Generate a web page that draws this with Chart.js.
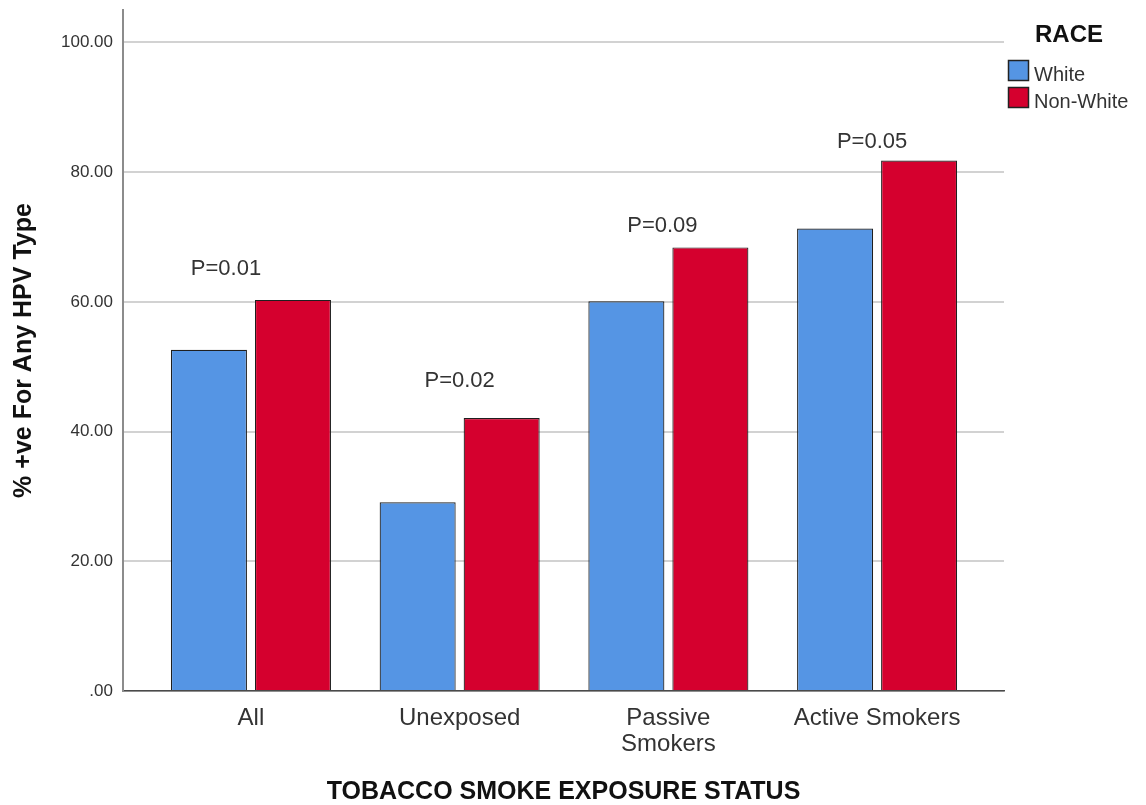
<!DOCTYPE html>
<html>
<head>
<meta charset="utf-8">
<script src="https://cdn.jsdelivr.net/npm/chart.js@4.4.1/dist/chart.umd.min.js"></script>
<style>
  body { margin: 0; background: #fff; }
  #wrap { width: 1146px; height: 805px; position: relative; }
</style>
</head>
<body>
<div id="wrap"><canvas id="myChart"></canvas></div>
<script>
// categories (tick labels) and series values
const categories = ['All', 'Unexposed', ['Passive', 'Smokers'], 'Active Smokers'];
const whiteValues = [52.6, 29.1, 60.1, 71.3];
const nonWhiteValues = [60.3, 42.1, 68.4, 81.8];
const pValues = ['P=0.01', 'P=0.02', 'P=0.09', 'P=0.05'];
const yTicks = [0, 20, 40, 60, 80, 100];

const ctx = document.getElementById('myChart');

Chart.defaults.font.family = '"Liberation Sans", Arial, sans-serif';
Chart.defaults.color = '#333';

// P value labels above each group
const pLabels = {
    id: 'pLabels',
    afterDatasetsDraw(chart, args, opts) {
        const c = chart.ctx;
        const x = chart.scales.x, y = chart.scales.y;
        c.save();
        c.font = '22px "Liberation Sans", Arial, sans-serif';
        c.fillStyle = '#333';
        c.textAlign = 'center';
        c.textBaseline = 'alphabetic';
        pValues.forEach((t, i) => {
            c.fillText(t, x.getPixelForValue(i) + opts.dx[i], y.getPixelForValue(opts.at[i]));
        });
        c.restore();
    }
};

// legend drawn by hand on the right, SPSS style
const raceLegend = {
    id: 'raceLegend',
    afterDraw(chart) {
        const c = chart.ctx;
        const left = chart.chartArea.right + 4;
        c.save();
        c.font = 'bold 24px "Liberation Sans", Arial, sans-serif';
        c.fillStyle = '#111';
        c.textBaseline = 'alphabetic';
        c.fillText('RACE', left + 27, 42);
        c.font = '20px "Liberation Sans", Arial, sans-serif';
        chart.data.datasets.forEach((ds, i) => {
            const top = 60 + i * 27;
            c.fillStyle = ds.backgroundColor;
            c.fillRect(left, top, 21, 21);
            c.strokeStyle = '#222';
            c.lineWidth = 1.5;
            c.strokeRect(left + 0.5, top + 0.5, 20, 20);
            c.fillStyle = '#333';
            c.fillText(ds.label, left + 26, top + 21);
        });
        c.restore();
    }
};

new Chart(ctx, {
    type: 'bar',
    data: {
        datasets: [{
            label: 'White',
            data: whiteValues.map((v, i) => ({ x: i, y: v })),
            backgroundColor: '#5595E4',
            borderColor: '#1f1f1f',
            borderWidth: 1.2
        }, {
            label: 'Non-White',
            data: nonWhiteValues.map((v, i) => ({ x: i, y: v })),
            backgroundColor: '#D5002E',
            borderColor: '#1f1f1f',
            borderWidth: 1.2
        }]
    },
    options: {
        responsive: true,
        maintainAspectRatio: false,
        animation: false,
        categoryPercentage: 0.805,
        barPercentage: 0.905,
        layout: { padding: { left: 0, right: 142, top: 10, bottom: 0 } },
        plugins: {
            legend: { display: false },
            tooltip: { enabled: false },
            pLabels: {
                at: [64.1, 46.9, 70.8, 83.7],
                dx: [-25, 0, -6, -5]
            }
        },
        scales: {
            x: {
                type: 'linear',
                min: -0.613,
                max: 3.608,
                offset: false,
                afterBuildTicks: (axis) => { axis.ticks = categories.map((c, i) => ({ value: i })); },
                afterFit: (axis) => { axis.height = 114; },
                grid: { display: false, drawTicks: false, offset: false },
                border: { display: true, color: '#4a4a4a', width: 1.5 },
                ticks: {
                    autoSkip: false,
                    maxRotation: 0,
                    padding: 14,
                    color: '#333',
                    font: { size: 24, lineHeight: 1.1 },
                    callback: (v) => categories[v]
                },
                title: {
                    display: true,
                    text: 'TOBACCO SMOKE EXPOSURE STATUS',
                    color: '#111',
                    font: { size: 25, weight: 'bold', lineHeight: 1 },
                    padding: { top: 0, bottom: 0 }
                }
            },
            y: {
                min: 0,
                max: 105,
                afterBuildTicks: (axis) => { axis.ticks = yTicks.map(v => ({ value: v })); },
                afterFit: (axis) => {
                    axis.width = 123;
                    axis.paddingTop = 0;
                    axis.paddingBottom = 0;
                },
                grid: { color: '#d2d2d2', lineWidth: 2, drawTicks: false },
                border: { display: true, color: '#8c8c8c', width: 2 },
                ticks: {
                    padding: 10,
                    color: '#333',
                    font: { size: 17 },
                    callback: (v) => v === 0 ? '.00' : v.toFixed(2)
                },
                title: {
                    display: true,
                    text: '% +ve For Any HPV Type',
                    color: '#111',
                    font: { size: 25, weight: 'bold', lineHeight: 1.2 },
                    padding: { top: 9, bottom: 0 }
                }
            }
        }
    },
    plugins: [pLabels, raceLegend]
});
</script>
</body>
</html>
